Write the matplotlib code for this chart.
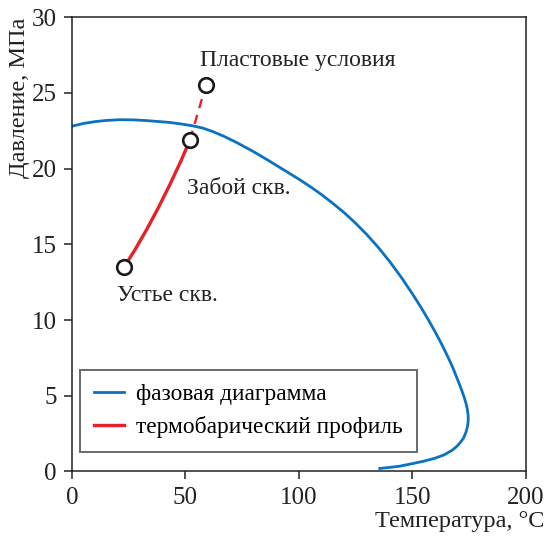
import matplotlib
matplotlib.use('Agg')
import matplotlib.pyplot as plt

plt.rcParams['font.family'] = ['Liberation Serif', 'DejaVu Serif']

# фазовая диаграмма (T, P)
phase_t = [0, 5, 10, 15, 21, 27, 33, 38, 43, 48, 53, 57.6, 62, 67, 72.6, 80, 87.1, 93.5, 100, 105,
           110, 115, 120, 125, 130, 135, 140, 145, 150, 154, 157, 160, 163, 166, 168, 170, 171.5,
           172.7, 173.6, 174.2, 174.5, 174.6, 174.3, 173.6, 172.5, 171, 169.5, 167.5, 164, 160, 155,
           150, 144.4, 140, 135.6]
phase_p = [22.8, 22.98, 23.1, 23.18, 23.23, 23.22, 23.17, 23.11, 23.05, 22.95, 22.83, 22.68, 22.45,
           22.13, 21.72, 21.12, 20.49, 19.9, 19.3, 18.81, 18.28, 17.7, 17.08, 16.39, 15.63, 14.79,
           13.86, 12.84, 11.73, 10.78, 10.02, 9.22, 8.37, 7.45, 6.78, 6.03, 5.45, 4.95, 4.5, 4.1, 3.75,
           3.4, 3.0, 2.6, 2.2, 1.9, 1.65, 1.4, 1.1, 0.88, 0.68, 0.52, 0.35, 0.27, 0.2]

# термобарический профиль
prof_t = [23, 28, 33, 38, 43, 48, 52]
prof_p = [13.5, 14.7, 16.0, 17.4, 18.9, 20.5, 21.9]
dash_t = [52, 59]
dash_p = [21.9, 25.5]

pts_t = [23, 52, 59]
pts_p = [13.5, 21.9, 25.5]
pts_labels = ['Устье скв.', 'Забой скв.', 'Пластовые условия']
label_pos = [(19.8, 11.6), (50.5, 18.7), (56.5, 27.15)]

fig = plt.figure(figsize=(5.45, 5.37), dpi=100)
ax = fig.add_axes([0.132, 0.122, 0.833, 0.846])

ax.plot(phase_t, phase_p, color='#0a72c0', lw=2.0, label='фазовая диаграмма', zorder=2,
        solid_joinstyle='round')
ax.plot(prof_t, prof_p, color='#e8202a', lw=2.4, label='термобарический профиль', zorder=3,
        solid_joinstyle='round')
ax.plot(dash_t, dash_p, color='#e8202a', lw=1.7, ls=(0, (4, 3)), zorder=3)
ax.plot(pts_t, pts_p, ls='none', marker='o', ms=10.5, mfc='white', mec='#1a1a1a', mew=1.9, zorder=4)

for txt, (tx, ty) in zip(pts_labels, label_pos):
    ax.text(tx, ty, txt, fontsize=17, ha='left', va='center', color='#222222')

ax.set_xlim(0, 200)
ax.set_ylim(0, 30)
ax.set_xticks([0, 50, 100, 150, 200])
ax.set_yticks([0, 5, 10, 15, 20, 25, 30])
ax.tick_params(labelsize=18, direction='out', length=6, width=1.1, pad=5, colors='#222222')
ax.tick_params(top=False, right=False)
for s in ax.spines.values():
    s.set_linewidth(1.1)
    s.set_color('#222222')

ax.set_xlabel('Температура, °C', fontsize=17.5, ha='right', color='#222222')
ax.xaxis.set_label_coords(1.04, -0.088)
ax.set_ylabel('Давление, МПа', fontsize=17.5, loc='top', labelpad=1, color='#222222')

leg = ax.legend(loc='lower left', bbox_to_anchor=(0.018, 0.042), fontsize=16.8, frameon=True,
                fancybox=False, handlelength=1.3, handletextpad=0.5, borderpad=0.6,
                labelspacing=0.47, borderaxespad=0)
leg.get_frame().set_edgecolor('#444444')
leg.get_frame().set_linewidth(1.4)

plt.savefig('out.png', dpi=100)
plt.close()
